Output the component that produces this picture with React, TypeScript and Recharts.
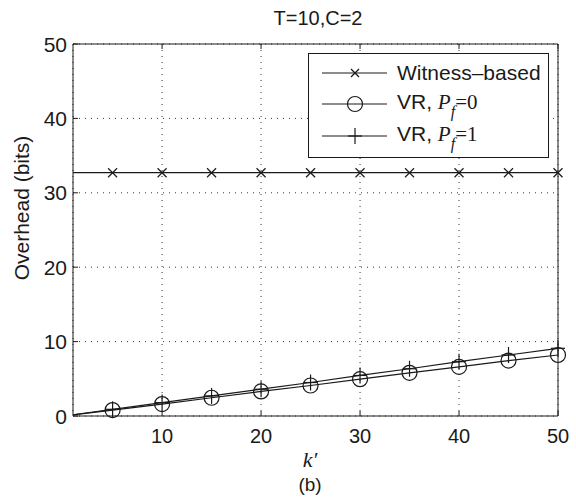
import { LineChart, Line, XAxis, YAxis, CartesianGrid } from "recharts";

// k' positions (markers every 5, line starts at 1)
const kValues = [1, 5, 10, 15, 20, 25, 30, 35, 40, 45, 50];
const witness = [32.7, 32.7, 32.7, 32.7, 32.7, 32.7, 32.7, 32.7, 32.7, 32.7, 32.7];
const vrPf0 = [0.15, 0.8, 1.6, 2.45, 3.3, 4.1, 4.95, 5.8, 6.6, 7.45, 8.2];
const vrPf1 = [0.17, 0.9, 1.8, 2.7, 3.6, 4.5, 5.45, 6.35, 7.3, 8.2, 9.1];
const xTicks = [10, 20, 30, 40, 50];
const yTicks = [0, 10, 20, 30, 40, 50];

const data = kValues.map((k, i) => ({ k, witness: witness[i], pf0: vrPf0[i], pf1: vrPf1[i] }));

const FONT = "'Liberation Sans', Arial, sans-serif";
const SERIF = "'Liberation Serif', 'Times New Roman', serif";
const INK = "#1a1a1a";

function CrossMark({ cx, cy, s = 4.5 }: any) {
  return (
    <g stroke={INK} strokeWidth={1.2}>
      <line x1={cx - s} y1={cy - s} x2={cx + s} y2={cy + s} />
      <line x1={cx - s} y1={cy + s} x2={cx + s} y2={cy - s} />
    </g>
  );
}
function CircleMark({ cx, cy }: any) {
  return <circle cx={cx} cy={cy} r={7.5} fill="none" stroke={INK} strokeWidth={1.2} />;
}
function PlusMark({ cx, cy }: any) {
  return (
    <g stroke={INK} strokeWidth={1.2}>
      <line x1={cx} y1={cy - 8} x2={cx} y2={cy + 8} />
      <line x1={cx - 7} y1={cy} x2={cx + 7} y2={cy} />
    </g>
  );
}

const dotWith = (Mark: any) => (p: any) =>
  p.payload.k % 5 === 0 ? <Mark key={p.index} cx={p.cx} cy={p.cy} /> : <g key={p.index} />;

function BottomTick({ x, y, payload }: any) {
  return (
    <g>
      <line x1={x} x2={x} y1={y} y2={y - 5} stroke={INK} />
      <text x={x} y={y + 27} textAnchor="middle" fontSize={20} fontFamily={FONT} fill={INK}>
        {payload.value}
      </text>
    </g>
  );
}
function TopTick({ x, y }: any) {
  return <line x1={x} x2={x} y1={y} y2={y + 5} stroke={INK} />;
}
function LeftTick({ x, y, payload }: any) {
  return (
    <g>
      <line x1={x} x2={x + 5} y1={y} y2={y} stroke={INK} />
      <text x={x - 6} y={y + 7.5} textAnchor="end" fontSize={21} fontFamily={FONT} fill={INK}>
        {payload.value}
      </text>
    </g>
  );
}
function RightTick({ x, y }: any) {
  return <line x1={x} x2={x - 5} y1={y} y2={y} stroke={INK} />;
}

function PLabel({ n }: { n: number }) {
  return (
    <span>
      VR, <span style={{ fontFamily: SERIF, fontStyle: "italic" }}>P</span>
      <sub style={{ fontFamily: SERIF, fontStyle: "italic", fontSize: 16, position: "relative", top: 3 }}>f</sub>
      <span style={{ fontFamily: SERIF }}>={n}</span>
    </span>
  );
}

function LegendBox() {
  const rows = [
    { mark: <CrossMark cx={33} cy={8} s={4} />, label: <span>Witness–based</span>, h: 31 },
    { mark: <CircleMark cx={33} cy={8} />, label: <PLabel n={0} />, h: 32 },
    { mark: <PlusMark cx={33} cy={8} />, label: <PLabel n={1} />, h: 32 },
  ];
  return (
    <div
      style={{
        position: "absolute",
        left: 308,
        top: 53,
        border: `1px solid ${INK}`,
        background: "#fff",
        width: 241,
        height: 105,
        boxSizing: "border-box",
        padding: "3px 0 0 13px",
        fontFamily: FONT,
        fontSize: 21,
        color: INK,
      }}
    >
      {rows.map((r, i) => (
        <div key={i} style={{ display: "flex", alignItems: "center", height: r.h }}>
          <svg width={66} height={16} style={{ overflow: "visible" }}>
            <line x1={0} x2={65} y1={8} y2={8} stroke={INK} strokeWidth={1.2} />
            {r.mark}
          </svg>
          <span style={{ marginLeft: 9, whiteSpace: "nowrap" }}>{r.label}</span>
        </div>
      ))}
    </div>
  );
}

export default function App() {
  return (
    <div style={{ position: "absolute", left: 0, top: 0, width: 576, height: 502, background: "#fff" }}>
      <LineChart width={576} height={502} data={data} margin={{ top: 43, right: 17, left: 13, bottom: 85 }}>
        <CartesianGrid stroke="#333" strokeDasharray="1 5" strokeWidth={1} />
        <XAxis
          dataKey="k"
          type="number"
          domain={[1, 50]}
          ticks={xTicks}
          stroke={INK}
          tickSize={0}
          tickMargin={0}
          tickLine={false}
          height={1}
          tick={<BottomTick />}
        />
        <XAxis
          xAxisId="top"
          orientation="top"
          dataKey="k"
          type="number"
          domain={[1, 50]}
          ticks={xTicks}
          stroke={INK}
          tickSize={0}
          tickMargin={0}
          tickLine={false}
          height={1}
          tick={<TopTick />}
        />
        <YAxis
          domain={[0, 50]}
          ticks={yTicks}
          stroke={INK}
          width={60}
          tickSize={0}
          tickMargin={0}
          tickLine={false}
          tick={<LeftTick />}
        />
        <YAxis
          yAxisId="right"
          orientation="right"
          domain={[0, 50]}
          ticks={yTicks}
          stroke={INK}
          width={1}
          tickSize={0}
          tickMargin={0}
          tickLine={false}
          tick={<RightTick />}
        />
        <Line dataKey="witness" stroke={INK} strokeWidth={1.2} dot={dotWith(CrossMark)} isAnimationActive={false} />
        <Line dataKey="pf0" stroke={INK} strokeWidth={1.2} dot={dotWith(CircleMark)} isAnimationActive={false} />
        <Line dataKey="pf1" stroke={INK} strokeWidth={1.2} dot={dotWith(PlusMark)} isAnimationActive={false} />
      </LineChart>

      <LegendBox />

      <div style={{ position: "absolute", top: 7, left: 0, width: 636, textAlign: "center", fontFamily: FONT, fontSize: 20, color: INK }}>
        T=10,C=2
      </div>
      <div
        style={{
          position: "absolute",
          left: 22,
          top: 208,
          transform: "translate(-50%, -50%) rotate(-90deg)",
          whiteSpace: "nowrap",
          fontFamily: FONT,
          fontSize: 21,
          color: INK,
        }}
      >
        Overhead (bits)
      </div>
      <div style={{ position: "absolute", top: 447, left: 0, width: 620, textAlign: "center", fontFamily: SERIF, fontStyle: "italic", fontSize: 22, color: INK }}>
        k′
      </div>
      <div style={{ position: "absolute", top: 474, left: 0, width: 620, textAlign: "center", fontFamily: FONT, fontSize: 19, color: INK }}>
        (b)
      </div>
    </div>
  );
}
